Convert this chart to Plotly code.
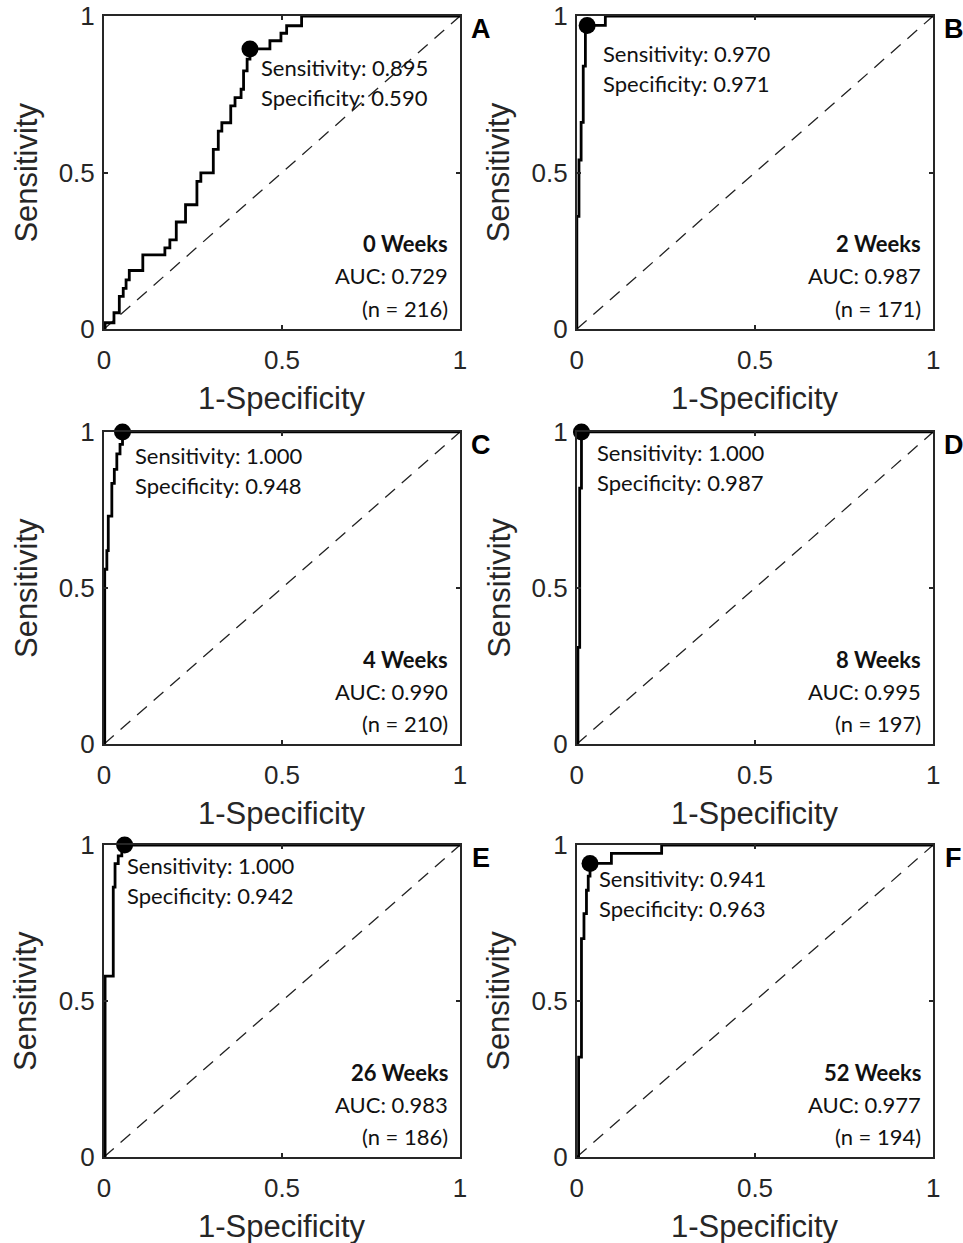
import plotly.graph_objects as go

# ---- data -----------------------------------------------------------------
panel_letters = ["A", "B", "C", "D", "E", "F"]
week_labels = ["0 Weeks", "2 Weeks", "4 Weeks", "8 Weeks", "26 Weeks", "52 Weeks"]
auc_values = [0.729, 0.987, 0.990, 0.995, 0.983, 0.977]
n_values = [216, 171, 210, 197, 186, 194]
opt_sensitivity = [0.895, 0.970, 1.000, 1.000, 1.000, 0.941]
opt_specificity = [0.590, 0.971, 0.948, 0.987, 0.942, 0.963]

# ROC operating points: false positive rate at each rise, true positive rate after it
fpr_0wk = [0, 0.003, 0.028, 0.043, 0.054, 0.062, 0.071, 0.109, 0.171, 0.185, 0.203,
           0.229, 0.261, 0.272, 0.307, 0.321, 0.331, 0.356, 0.368, 0.385, 0.392,
           0.402, 0.410, 0.466, 0.497, 0.513, 0.555, 1.0]
tpr_0wk = [0, 0.020, 0.052, 0.104, 0.130, 0.157, 0.187, 0.237, 0.259, 0.285, 0.342,
           0.397, 0.472, 0.499, 0.574, 0.632, 0.659, 0.713, 0.739, 0.766, 0.825,
           0.862, 0.895, 0.921, 0.945, 0.969, 1.0, 1.0]
fpr_2wk = [0, 0, 0.006, 0.012, 0.018, 0.024, 0.029, 0.080, 1.0]
tpr_2wk = [0, 0.36, 0.54, 0.66, 0.84, 0.95, 0.970, 1.0, 1.0]
fpr_4wk = [0, 0.002, 0.008, 0.012, 0.022, 0.029, 0.036, 0.045, 0.052, 1.0]
tpr_4wk = [0, 0.56, 0.62, 0.73, 0.835, 0.88, 0.93, 0.96, 1.0, 1.0]
fpr_8wk = [0, 0.003, 0.008, 0.013, 1.0]
tpr_8wk = [0, 0.31, 0.82, 1.0, 1.0]
fpr_26wk = [0, 0.003, 0.026, 0.031, 0.040, 0.050, 0.058, 1.0]
tpr_26wk = [0, 0.58, 0.865, 0.94, 0.965, 0.985, 1.0, 1.0]
fpr_52wk = [0, 0.005, 0.013, 0.020, 0.027, 0.032, 0.037, 0.097, 0.238, 1.0]
tpr_52wk = [0, 0.32, 0.70, 0.78, 0.855, 0.90, 0.941, 0.973, 1.0, 1.0]

roc_fpr = [fpr_0wk, fpr_2wk, fpr_4wk, fpr_8wk, fpr_26wk, fpr_52wk]
roc_tpr = [tpr_0wk, tpr_2wk, tpr_4wk, tpr_8wk, tpr_26wk, tpr_52wk]

tick_values = [0, 0.5, 1]
tick_text = ["0", "0.5", "1"]
chance_line = [0, 1]

# ---- layout geometry --------------------------------------------------------
W, H = 963, 1243
col_domains = [[0.108, 0.4777], [0.599, 0.969]]
row_domains = [[0.7353, 0.9871], [0.4014, 0.6525], [0.0692, 0.3202]]
# operating-point label placement (left x, first line y) in data units
op_label_pos = [(0.436, 0.837), (0.068, 0.881), (0.082, 0.926),
                (0.051, 0.933), (0.060, 0.933), (0.057, 0.894)]

AX_COLOR = "#262626"
TICK_FONT = dict(family="Liberation Sans, Arial, sans-serif", size=26, color=AX_COLOR)
TITLE_FONT = dict(family="Liberation Sans, Arial, sans-serif", size=31, color=AX_COLOR)
TEXT_FONT = dict(family="Lato, Carlito, Calibri, sans-serif", size=22, color="#111111")

fig = go.Figure()
annotations = []

for i in range(6):
    row, col = divmod(i, 2)
    suffix = "" if i == 0 else str(i + 1)
    xa, ya = "x" + suffix, "y" + suffix

    # chance diagonal
    fig.add_trace(go.Scatter(
        x=chance_line, y=chance_line, mode="lines", xaxis=xa, yaxis=ya,
        line=dict(color="#222222", width=1.3, dash="13px,9px"),
        hoverinfo="skip", showlegend=False))
    # ROC staircase
    fig.add_trace(go.Scatter(
        x=roc_fpr[i], y=roc_tpr[i], mode="lines", xaxis=xa, yaxis=ya,
        line=dict(color="black", width=2.8, shape="hv"),
        cliponaxis=False, showlegend=False))
    # optimal operating point
    fig.add_trace(go.Scatter(
        x=[1 - opt_specificity[i]], y=[opt_sensitivity[i]], mode="markers",
        xaxis=xa, yaxis=ya, marker=dict(color="black", size=17),
        cliponaxis=False, showlegend=False))

    axis_common = dict(
        range=[0, 1], tickvals=tick_values, ticktext=tick_text,
        showgrid=False, zeroline=False, showline=True, mirror="ticks",
        linecolor=AX_COLOR, linewidth=2, ticks="inside", ticklen=4,
        tickwidth=1.5, tickcolor=AX_COLOR, tickfont=TICK_FONT, fixedrange=True,
        automargin=False)
    fig.update_layout({
        "xaxis" + suffix: dict(axis_common, domain=col_domains[col], anchor=ya,
                               ticklabelstandoff=7),
        "yaxis" + suffix: dict(axis_common, domain=row_domains[row], anchor=xa,
                               ticklabelstandoff=2),
    })

    xd, yd = xa + " domain", ya + " domain"
    # axis titles
    annotations.append(dict(text="1-Specificity", xref=xd, yref=yd, x=0.5, y=-0.222,
                            xanchor="center", yanchor="middle", showarrow=False,
                            font=TITLE_FONT))
    annotations.append(dict(text="Sensitivity", xref=xd, yref=yd, x=-0.219, y=0.5,
                            xanchor="center", yanchor="middle", textangle=-90,
                            showarrow=False, font=TITLE_FONT))
    # panel letter
    annotations.append(dict(text="<b>%s</b>" % panel_letters[i], xref=xd, yref=yd,
                            x=1.058, y=0.958, xanchor="center", yanchor="middle",
                            showarrow=False,
                            font=dict(family="Liberation Sans, Arial, sans-serif",
                                      size=27, color="black")))
    # operating point labels
    lx, ly = op_label_pos[i]
    annotations.append(dict(text="Sensitivity: %.3f" % opt_sensitivity[i], xref=xa,
                            yref=ya, x=lx, y=ly, xanchor="left", yanchor="middle",
                            showarrow=False, font=TEXT_FONT))
    annotations.append(dict(text="Specificity: %.3f" % opt_specificity[i], xref=xa,
                            yref=ya, x=lx, y=ly - 0.096, xanchor="left",
                            yanchor="middle", showarrow=False, font=TEXT_FONT))
    # summary block
    summary = ["<b>%s</b>" % week_labels[i], "AUC: %.3f" % auc_values[i],
               "(n = %d)" % n_values[i]]
    for k, line in enumerate(summary):
        annotations.append(dict(text=line, xref=xa, yref=ya, x=0.972,
                                y=0.272 - 0.1025 * k, xanchor="right",
                                yanchor="middle", showarrow=False, font=TEXT_FONT))

fig.update_layout(
    width=W, height=H, margin=dict(l=0, r=0, t=0, b=0, autoexpand=False),
    paper_bgcolor="white", plot_bgcolor="white",
    annotations=annotations, showlegend=False)

fig.write_html("out.html")
